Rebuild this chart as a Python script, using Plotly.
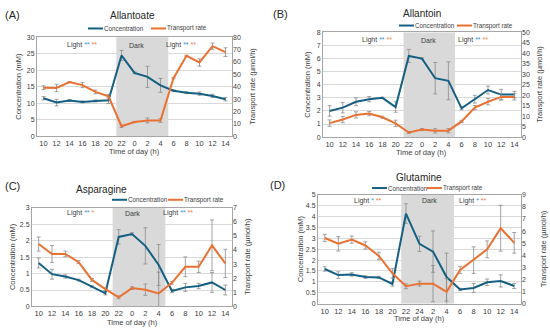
import plotly.graph_objects as go

# ---------------- data ----------------
times_abc = ["10", "12", "14", "16", "18", "20", "22", "0", "2", "4", "6", "8", "10", "12", "14"]
times_d = ["10", "12", "14", "16", "18", "20", "22", "24", "2", "4", "6", "8", "10", "12", "14"]

allantoate_conc = [11.5, 10.2, 10.8, 10.4, 10.7, 10.9, 24.5, 19.2, 18.0, 15.4, 13.8, 13.2, 12.9, 12.2, 11.2]
allantoate_conc_err = [0.5, 1.0, 0.3, 0.3, 0.3, 1.0, 1.5, 0.3, 3.2, 2.1, 0.3, 0.3, 0.5, 0.5, 0.5]
allantoate_rate = [39.2, 39.0, 43.7, 41.3, 35.8, 32.3, 8.0, 11.4, 12.7, 12.7, 46.9, 65.0, 59.6, 72.8, 68.0]
allantoate_rate_err = [1.5, 3.0, 0.5, 2.0, 1.5, 1.5, 1.0, 0.5, 2.0, 1.5, 0.5, 0.5, 3.0, 2.5, 3.5]

allantoin_conc = [2.0, 2.25, 2.7, 2.9, 3.0, 2.3, 6.2, 6.0, 4.5, 4.3, 2.2, 2.9, 3.6, 3.25, 3.25]
allantoin_conc_err = [0.4, 0.4, 0.3, 0.2, 0.05, 0.4, 0.5, 0.05, 1.2, 1.45, 0.1, 0.3, 0.3, 0.4, 0.25]
allantoin_rate = [6.7, 8.4, 10.6, 11.25, 9.5, 6.6, 2.2, 3.6, 3.0, 3.1, 7.5, 14.1, 16.9, 19.2, 19.2]
allantoin_rate_err = [1.5, 1.5, 1.5, 1.0, 0.5, 1.5, 0.5, 0.5, 1.0, 1.0, 0.5, 1.0, 1.5, 1.5, 1.5]

asparagine_conc = [1.32, 0.98, 0.91, 0.80, 0.60, 0.40, 2.11, 2.20, 1.84, 1.26, 0.47, 0.58, 0.62, 0.73, 0.50]
asparagine_conc_err = [0.15, 0.15, 0.05, 0.03, 0.03, 0.05, 0.22, 0.04, 0.55, 0.62, 0.05, 0.12, 0.08, 0.30, 0.15]
asparagine_rate = [4.42, 3.72, 3.72, 3.14, 1.88, 1.23, 0.65, 1.30, 1.19, 0.93, 1.67, 2.81, 2.81, 4.33, 3.05]
asparagine_rate_err = [0.5, 0.6, 0.2, 0.1, 0.1, 0.1, 0.1, 0.1, 0.4, 1.5, 0.1, 0.7, 0.4, 1.8, 1.0]

glutamine_conc = [1.59, 1.31, 1.34, 1.22, 1.20, 0.90, 4.14, 2.75, 2.39, 1.22, 0.65, 0.72, 0.98, 1.04, 0.81]
glutamine_conc_err = [0.10, 0.15, 0.08, 0.06, 0.05, 0.10, 0.45, 0.35, 0.95, 1.10, 0.05, 0.20, 0.15, 0.28, 0.12]
glutamine_rate = [5.43, 4.95, 5.30, 4.81, 3.95, 2.51, 1.43, 1.65, 1.65, 0.97, 2.78, 3.60, 4.49, 6.24, 5.03]
glutamine_rate_err = [0.3, 0.6, 0.3, 0.3, 0.3, 0.4, 0.2, 0.2, 1.5, 1.1, 0.3, 1.1, 0.7, 1.9, 0.85]

titles = ["Allantoate", "Allantoin", "Asparagine", "Glutamine"]
panel_labels = ["(A)", "(B)", "(C)", "(D)"]
series_names = ["Concentration", "Transport rate"]
left_title = "Concentration (mM)"
right_title = "Transport rate (µmol/h)"
x_title = "Time of day (h)"

# ---------------- styling / layout ----------------
BLUE = "#156082"
ORANGE = "#E97132"
AST_BLUE = "#2f8fd6"
AST_ORANGE = "#f47a45"
ERR = "#8c8c8c"
GRID = "#d9d9d9"
FRAME = "#a6a6a6"
TXT = "#404040"
FONT = "Liberation Sans, Arial, sans-serif"
W, H = 550, 332


def fx(px):
    return px / W


def fy(py):
    return 1 - py / H


def stars(n_blue, n_orange):
    return ("<span style='color:%s'>%s</span><span style='color:%s'> %s</span>"
            % (AST_BLUE, "*" * n_blue, AST_ORANGE, "*" * n_orange))


panels = [
    dict(times=times_abc, conc=allantoate_conc, conc_err=allantoate_conc_err,
         rate=allantoate_rate, rate_err=allantoate_rate_err,
         yr=[0, 30], yd=5, y2r=[0, 80], y2d=10,
         box=(37, 232, 34, 135), dark=(5.6, 9.6),
         lab=(1.65, 6.4, 9.3), lab_y=42, stars_l=(2, 2), stars_r=(2, 2),
         title=(132, 12), plabel=(3, 11), leg=(88, 151, 25),
         lt_x=19, rt_x=253, xt_y=151),
    dict(times=times_abc, conc=allantoin_conc, conc_err=allantoin_conc_err,
         rate=allantoin_rate, rate_err=allantoin_rate_err,
         yr=[0, 8], yd=1, y2r=[0, 50], y2d=5,
         box=(323, 521, 29, 136), dark=(5.6, 9.5),
         lab=(2.3, 6.8, 9.6), lab_y=37, stars_l=(2, 2), stars_r=(2, 2),
         title=(422, 10), plabel=(271, 10), leg=(399, 457, 22),
         lt_x=308, rt_x=540, xt_y=152),
    dict(times=times_abc, conc=asparagine_conc, conc_err=asparagine_conc_err,
         rate=asparagine_rate, rate_err=asparagine_rate_err,
         yr=[0, 3], yd=0.5, y2r=[0, 7], y2d=1,
         box=(32, 232, 208, 309), dark=(5.55, 9.5),
         lab=(1.95, 6.3, 9.15), lab_y=214, stars_l=(2, 1), stars_r=(2, 2),
         title=(101, 189), plabel=(3, 186), leg=(112, 168, 200),
         lt_x=12, rt_x=247, xt_y=325),
    dict(times=times_d, conc=glutamine_conc, conc_err=glutamine_conc_err,
         rate=glutamine_rate, rate_err=glutamine_rate_err,
         yr=[0, 5], yd=0.5, y2r=[0, 9], y2d=1,
         box=(318, 521, 195, 306), dark=(5.65, 9.55),
         lab=(2.0, 7.0, 9.8), lab_y=201, stars_l=(1, 2), stars_r=(1, 2),
         title=(419, 177), plabel=(268, 185), leg=(372, 427, 188),
         lt_x=300, rt_x=543, xt_y=321),
]

fig = go.Figure()
layout = dict(width=W, height=H, margin=dict(l=0, r=0, t=0, b=0),
              paper_bgcolor="white", plot_bgcolor="white", showlegend=False,
              font=dict(family=FONT, color=TXT, size=7))
annotations = []
shapes = []

for i, p in enumerate(panels):
    n = i + 1
    xname = "x" if n == 1 else "x%d" % n
    yl = 2 * n - 1
    yr = 2 * n
    ylname = "y" if yl == 1 else "y%d" % yl
    yrname = "y%d" % yr
    x0, x1, t, b = p["box"]
    xs = list(range(len(p["times"])))

    fig.add_trace(go.Scatter(
        x=xs, y=p["conc"], xaxis=xname, yaxis=ylname, mode="lines",
        name=series_names[0], line=dict(color=BLUE, width=2),
        error_y=dict(type="data", array=p["conc_err"], color=ERR, thickness=0.8, width=2)))
    fig.add_trace(go.Scatter(
        x=xs, y=p["rate"], xaxis=xname, yaxis=yrname, mode="lines",
        name=series_names[1], line=dict(color=ORANGE, width=2),
        error_y=dict(type="data", array=p["rate_err"], color=ERR, thickness=0.8, width=2)))

    xkey = "xaxis" if n == 1 else "xaxis%d" % n
    layout[xkey] = dict(domain=[fx(x0), fx(x1)], anchor=ylname, range=[-0.5, 14.5],
                        tickmode="array", tickvals=xs, ticktext=p["times"],
                        showgrid=False, zeroline=False, showline=True, mirror=True,
                        linecolor=FRAME, linewidth=1, ticks="", tickfont=dict(size=7.5, color=TXT))
    layout["yaxis" if yl == 1 else "yaxis%d" % yl] = dict(
        domain=[fy(b), fy(t)], anchor=xname, range=p["yr"], dtick=p["yd"],
        showgrid=True, gridcolor=GRID, gridwidth=0.8, zeroline=False,
        showline=True, mirror=True, linecolor=FRAME, linewidth=1,
        tickfont=dict(size=7, color=TXT), ticks="")
    layout["yaxis%d" % yr] = dict(
        overlaying=ylname, anchor=xname, side="right", range=p["y2r"], dtick=p["y2d"],
        showgrid=False, zeroline=False, showline=False,
        tickfont=dict(size=7, color=TXT), ticks="")

    # dark shading
    shapes.append(dict(type="rect", xref=xname, yref=ylname + " domain",
                       x0=p["dark"][0], x1=p["dark"][1], y0=0, y1=1,
                       fillcolor="#d9d9d9", line=dict(width=0), layer="below"))

    # Light / Dark labels
    sl, sr = p["stars_l"], p["stars_r"]
    for xv, txt in [(p["lab"][0], "Light " + stars(*sl)),
                    (p["lab"][1], "Dark"),
                    (p["lab"][2], "Light " + stars(*sr))]:
        annotations.append(dict(x=xv, xref=xname, y=fy(p["lab_y"]), yref="paper",
                                text=txt, showarrow=False, xanchor="left", yanchor="middle",
                                font=dict(size=7, color=TXT)))

    # title and panel label
    annotations.append(dict(x=fx(p["title"][0]), y=fy(p["title"][1]), xref="paper", yref="paper",
                            text=titles[i], showarrow=False, xanchor="center", yanchor="middle",
                            font=dict(size=10, color="#262626")))
    annotations.append(dict(x=fx(p["plabel"][0]), y=fy(p["plabel"][1]), xref="paper", yref="paper",
                            text=panel_labels[i], showarrow=False, xanchor="left", yanchor="middle",
                            font=dict(size=11, color="#262626")))

    # legend (manual)
    lb, lo, ly = p["leg"]
    for lx, col, name in [(lb, BLUE, series_names[0]), (lo, ORANGE, series_names[1])]:
        shapes.append(dict(type="line", xref="paper", yref="paper",
                           x0=fx(lx), x1=fx(lx + 15), y0=fy(ly), y1=fy(ly),
                           line=dict(color=col, width=2)))
        annotations.append(dict(x=fx(lx + 14), y=fy(ly), xref="paper", yref="paper",
                                text=name, showarrow=False, xanchor="left", yanchor="middle",
                                font=dict(size=6.3, color=TXT)))

    # axis titles
    ymid = fy((t + b) / 2)
    annotations.append(dict(x=fx(p["lt_x"]), y=ymid, xref="paper", yref="paper",
                            text=left_title, textangle=-90, showarrow=False,
                            xanchor="center", yanchor="middle", font=dict(size=7.5, color=TXT)))
    annotations.append(dict(x=fx(p["rt_x"]), y=ymid, xref="paper", yref="paper",
                            text=right_title, textangle=-90, showarrow=False,
                            xanchor="center", yanchor="middle", font=dict(size=7.5, color=TXT)))
    annotations.append(dict(x=fx((x0 + x1) / 2), y=fy(p["xt_y"]), xref="paper", yref="paper",
                            text=x_title, showarrow=False, xanchor="center", yanchor="middle",
                            font=dict(size=7.5, color=TXT)))

layout["annotations"] = annotations
layout["shapes"] = shapes
fig.update_layout(**layout)
fig.write_html("out.html", config={"displayModeBar": False},
               post_script="document.body.style.margin='0';document.body.style.padding='0';"
                           "document.body.style.overflow='hidden';")
